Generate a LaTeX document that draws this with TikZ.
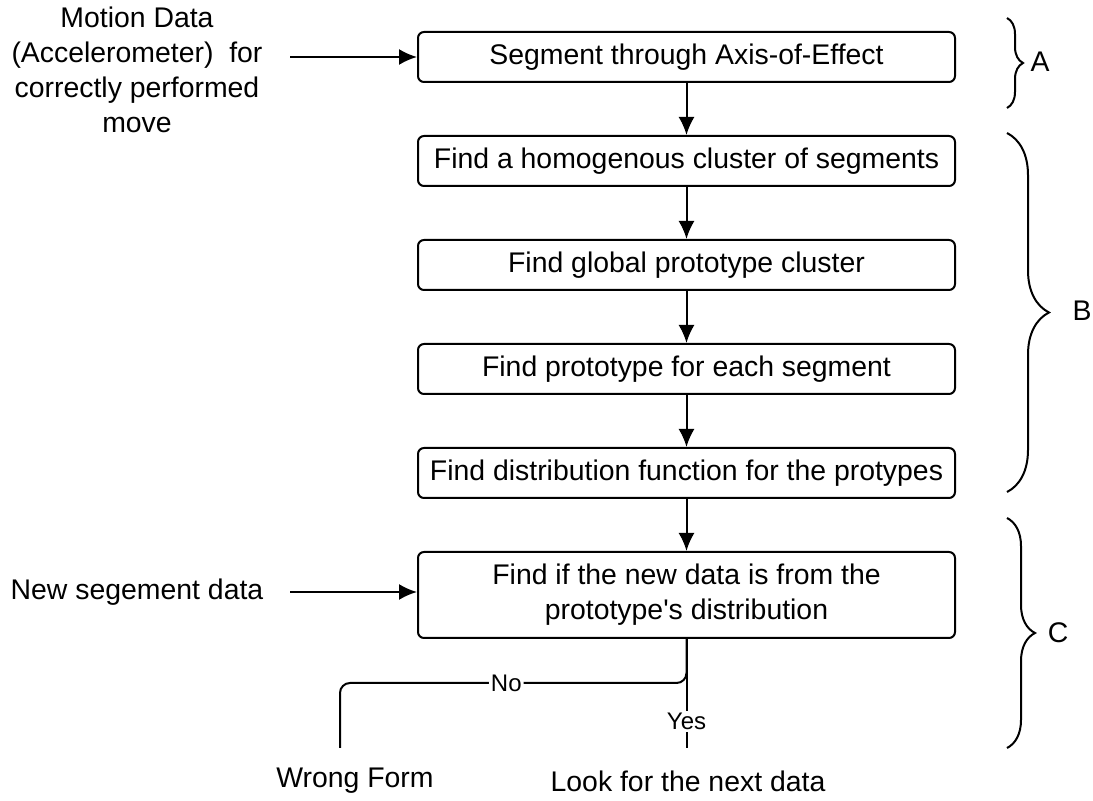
\documentclass[tikz,border=0pt]{standalone}
\usepackage{fontspec}
\setmainfont{Liberation Sans}
\usetikzlibrary{chains,arrows.meta,decorations.pathreplacing}

\begin{document}
\begin{tikzpicture}[x=0.5pt,y=-0.5pt,font=\fontsize{14.2}{17.5}\selectfont,
  box/.style={draw,line width=1pt,rounded corners=3pt,minimum width=268.5pt,
    minimum height=25pt,inner sep=2pt},
  arj/.style={line width=1pt,-{Latex[length=9pt,width=8pt]}},
  ln/.style={line width=1pt},
  br/.style={line width=1pt,decorate,decoration={brace,amplitude=#1}},
  lbl/.style={fill=white,inner sep=1pt,font=\fontsize{12}{14}\selectfont}]
  \useasboundingbox (0,0) rectangle (1093,801);
  \begin{scope}[start chain=F going below,oc/.style={join=by arj,on chain},
    node distance=26pt]
   \node(seg)[box,oc] at (686.5,57) {Segment through Axis-of-Effect};
   \node(homog)[box,oc]{Find a homogenous cluster of segments};
   \node(glob)[box,oc]{Find global prototype cluster};
   \node(proto)[box,oc]{Find prototype for each segment};
   \node(dist)[box,oc]{Find distribution function for the protypes};
   \node(chk)[box,oc,minimum height=43pt,align=center]{Find if the new data is from the\\prototype\textquotesingle s distribution};
  \end{scope}
  % inputs
  \node(motion)[align=center] at (137,70) {Motion Data\\(Accelerometer)~~for\\correctly performed\\move};
  \coordinate (mstart) at (290,57);
  \draw[arj] (mstart) -- (seg.west |- mstart);
  \node(newseg) at (137,592) {New segement data};
  \coordinate (nstart) at (290,592);
  \draw[arj] (nstart) -- (chk.west |- nstart);
  % decision
  \coordinate (yesend) at (686.5,748);
  \coordinate (nobend) at (340,683);
  \coordinate (noend) at (340,748);
  \draw[ln] (chk.south) -- node(yes)[lbl,pos=0.76]{Yes} (yesend);
  \draw[ln,rounded corners=5pt] (chk.south) |- node(no)[lbl,pos=0.76]{No} (nobend) -- (noend);
  \node(wrong) at (355,781) {Wrong Form};
  \node(next) at (688,781) {Look for the next data};
  % phases
  \draw[br=8pt] (1007,18) -- (1007,108);
  \node(phA) at (1040,62) {A};
  \draw[br=21pt] (1007,133) -- (1007,492);
  \node(phB) at (1082,311) {B};
  \draw[br=14pt] (1007,518) -- (1007,748);
  \node(phC) at (1058,633) {C};
\end{tikzpicture}
\end{document}
